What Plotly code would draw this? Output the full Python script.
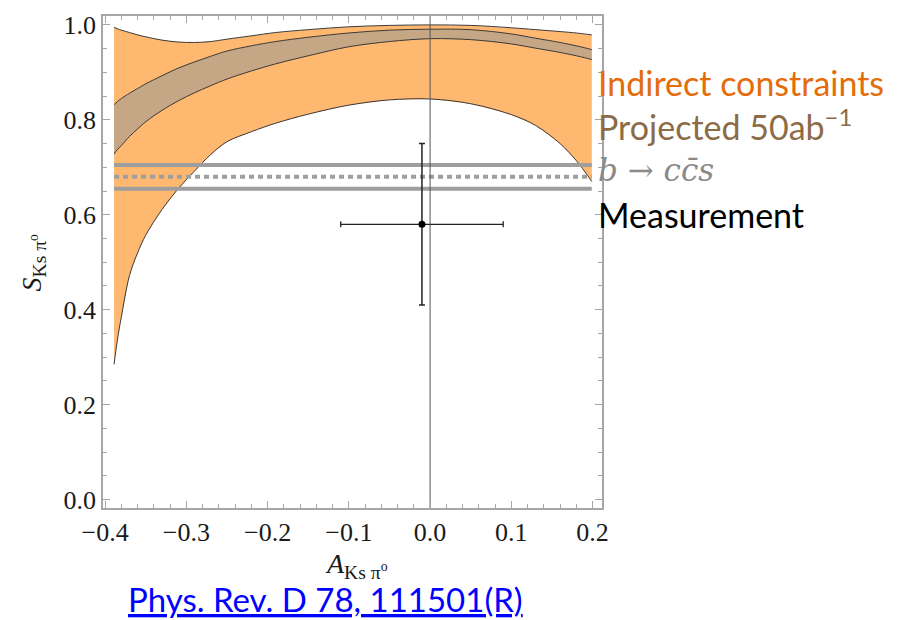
import plotly.graph_objects as go

# A(K_S pi0) grid on which the bands are tabulated
a_grid = [-0.389, -0.385, -0.38, -0.37, -0.36, -0.35, -0.33, -0.31, -0.29, -0.27,
          -0.25, -0.22, -0.19, -0.15, -0.10, -0.05, 0.00, 0.05, 0.10, 0.13,
          0.16, 0.18, 0.19, 0.199]

# Indirect constraints (orange band): upper and lower edge of S(K_S pi0)
indirect_hi = [0.995, 0.992, 0.989, 0.984, 0.979, 0.975, 0.968, 0.964, 0.963, 0.965,
               0.970, 0.977, 0.984, 0.990, 0.996, 0.999, 1.000, 0.999, 0.994, 0.990,
               0.986, 0.983, 0.981, 0.979]
indirect_lo = [0.285, 0.335, 0.385, 0.472, 0.520, 0.557, 0.611, 0.655, 0.692, 0.727,
               0.754, 0.775, 0.793, 0.812, 0.831, 0.842, 0.844, 0.834, 0.811, 0.788,
               0.750, 0.714, 0.692, 0.670]

# Projected 50 ab^-1 band (brown)
proj_hi = [0.832, 0.838, 0.845, 0.856, 0.866, 0.876, 0.893, 0.909, 0.922, 0.934,
           0.945, 0.956, 0.965, 0.974, 0.983, 0.989, 0.991, 0.990, 0.981, 0.972,
           0.963, 0.956, 0.952, 0.948]
proj_lo = [0.728, 0.737, 0.746, 0.765, 0.781, 0.796, 0.820, 0.840, 0.857, 0.872,
           0.886, 0.903, 0.918, 0.935, 0.954, 0.965, 0.971, 0.969, 0.960, 0.951,
           0.942, 0.935, 0.931, 0.927]

# sin(2 beta) from b -> c cbar s: central value and 1 sigma
ccs_center = 0.68
ccs_sigma = 0.025
ccs_span = [-0.389, 0.199]

# Measured point
meas_A, meas_A_err = -0.01, 0.10
meas_S, meas_S_err = 0.58, 0.17

x_ticks = [-0.4, -0.3, -0.2, -0.1, 0.0, 0.1, 0.2]
x_ticktext = ["\u22120.4", "\u22120.3", "\u22120.2", "\u22120.1", "0.0", "0.1", "0.2"]
y_ticks = [0.0, 0.2, 0.4, 0.6, 0.8, 1.0]
y_ticktext = ["0.0", "0.2", "0.4", "0.6", "0.8", "1.0"]

X_RANGE = [-0.4026, 0.2116]
Y_RANGE = [-0.0177, 1.0188]

ORANGE_FILL = "#FFB870"
BROWN_FILL = "#C5A685"
EDGE = "#3a3a3a"
GRAY = "#9e9e9e"

fig = go.Figure()

# orange band
fig.add_trace(go.Scatter(
    x=a_grid + a_grid[::-1], y=indirect_hi + indirect_lo[::-1],
    fill="toself", fillcolor=ORANGE_FILL, line=dict(width=0),
    mode="lines", hoverinfo="skip", showlegend=False))
# brown band
fig.add_trace(go.Scatter(
    x=a_grid + a_grid[::-1], y=proj_hi + proj_lo[::-1],
    fill="toself", fillcolor=BROWN_FILL, line=dict(width=0),
    mode="lines", hoverinfo="skip", showlegend=False))

# band edges
for edge in (indirect_hi, indirect_lo, proj_hi, proj_lo):
    fig.add_trace(go.Scatter(
        x=a_grid, y=edge, mode="lines", line=dict(color=EDGE, width=1, shape="spline"),
        hoverinfo="skip", showlegend=False))

# b -> c cbar s band lines
for val, dash in ((ccs_center + ccs_sigma, "solid"),
                  (ccs_center, "5px,4px"),
                  (ccs_center - ccs_sigma, "solid")):
    fig.add_trace(go.Scatter(
        x=ccs_span, y=[val, val], mode="lines",
        line=dict(color=GRAY, width=4, dash=dash),
        hoverinfo="skip", showlegend=False))

# vertical line at A = 0
fig.add_trace(go.Scatter(
    x=[0, 0], y=Y_RANGE, mode="lines", line=dict(color="#555555", width=1),
    hoverinfo="skip", showlegend=False))

# measurement with errors
fig.add_trace(go.Scatter(
    x=[meas_A], y=[meas_S], mode="markers",
    marker=dict(color="black", size=7),
    error_x=dict(type="data", array=[meas_A_err], color="#222222", thickness=1.3, width=3),
    error_y=dict(type="data", array=[meas_S_err], color="#222222", thickness=1.5, width=3),
    showlegend=False))

FRAME = "#a6a6a6"
tickfont = dict(family="Liberation Serif", size=26, color="#1a1a1a")
fig.update_xaxes(
    range=X_RANGE, tickvals=x_ticks, ticktext=x_ticktext, tickfont=tickfont,
    showgrid=False, zeroline=False, showline=True, linecolor=FRAME, linewidth=1.5,
    mirror="ticks", ticks="inside", ticklen=7, tickcolor=FRAME, tickwidth=1,
    minor=dict(dtick=0.02, tick0=0, ticks="inside", ticklen=4, tickcolor=FRAME,
               showgrid=False))
fig.update_yaxes(
    range=Y_RANGE, tickvals=y_ticks, ticktext=y_ticktext, tickfont=tickfont,
    showgrid=False, zeroline=False, showline=True, linecolor=FRAME, linewidth=1.5,
    mirror="ticks", ticks="inside", ticklen=7, tickcolor=FRAME, tickwidth=1,
    minor=dict(dtick=0.05, tick0=0, ticks="inside", ticklen=4, tickcolor=FRAME,
               showgrid=False))

W, H = 897, 620
L, R, T, B = 103, 295, 11, 112
PW, PH = W - L - R, H - T - B


def px(xp):
    return (xp - L) / PW


def py(yp):
    return (H - B - yp) / PH


notes = [
    dict(text="Indirect constraints", x=px(596), y=py(78), color="#E46C0A",
         family="Lato", size=34, anchor="left"),
    dict(text="Projected 50ab<sup>\u22121</sup>", x=px(596), y=py(121), color="#8C6B46",
         family="Lato", size=34, anchor="left"),
    dict(text="<i>b</i> \u2192 <i>cc\u0304s</i>",
         x=px(596), y=py(167), color="#8a8a8a", family="DejaVu Serif", size=31,
         anchor="left"),
    dict(text="Measurement", x=px(596), y=py(212), color="#000000",
         family="Lato", size=34, anchor="left"),
    dict(text="<u>Phys. Rev. D 78, 111501(R)</u>", x=px(325), y=py(600), color="#0000FF",
         family="Lato", size=33, anchor="center"),
    dict(text="<i>A</i><sub>Ks \u03c0<sup>o</sup></sub>", x=px(356), y=py(566),
         color="#1a1a1a", family="Liberation Serif", size=28, anchor="center"),
]
for n in notes:
    fig.add_annotation(
        text=n["text"], x=n["x"], y=n["y"], xref="paper", yref="paper",
        xanchor=n["anchor"], yanchor="middle", showarrow=False,
        font=dict(family=n["family"], size=n["size"], color=n["color"]))

fig.add_annotation(
    text="<i>S</i><sub>Ks \u03c0<sup>o</sup></sub>", x=px(33), y=py(260),
    xref="paper", yref="paper", xanchor="center", yanchor="middle",
    textangle=-90, showarrow=False,
    font=dict(family="Liberation Serif", size=28, color="#1a1a1a"))

fig.update_layout(
    width=W, height=H, margin=dict(l=L, r=R, t=T, b=B),
    plot_bgcolor="white", paper_bgcolor="white", showlegend=False)

fig.write_html("out.html")
